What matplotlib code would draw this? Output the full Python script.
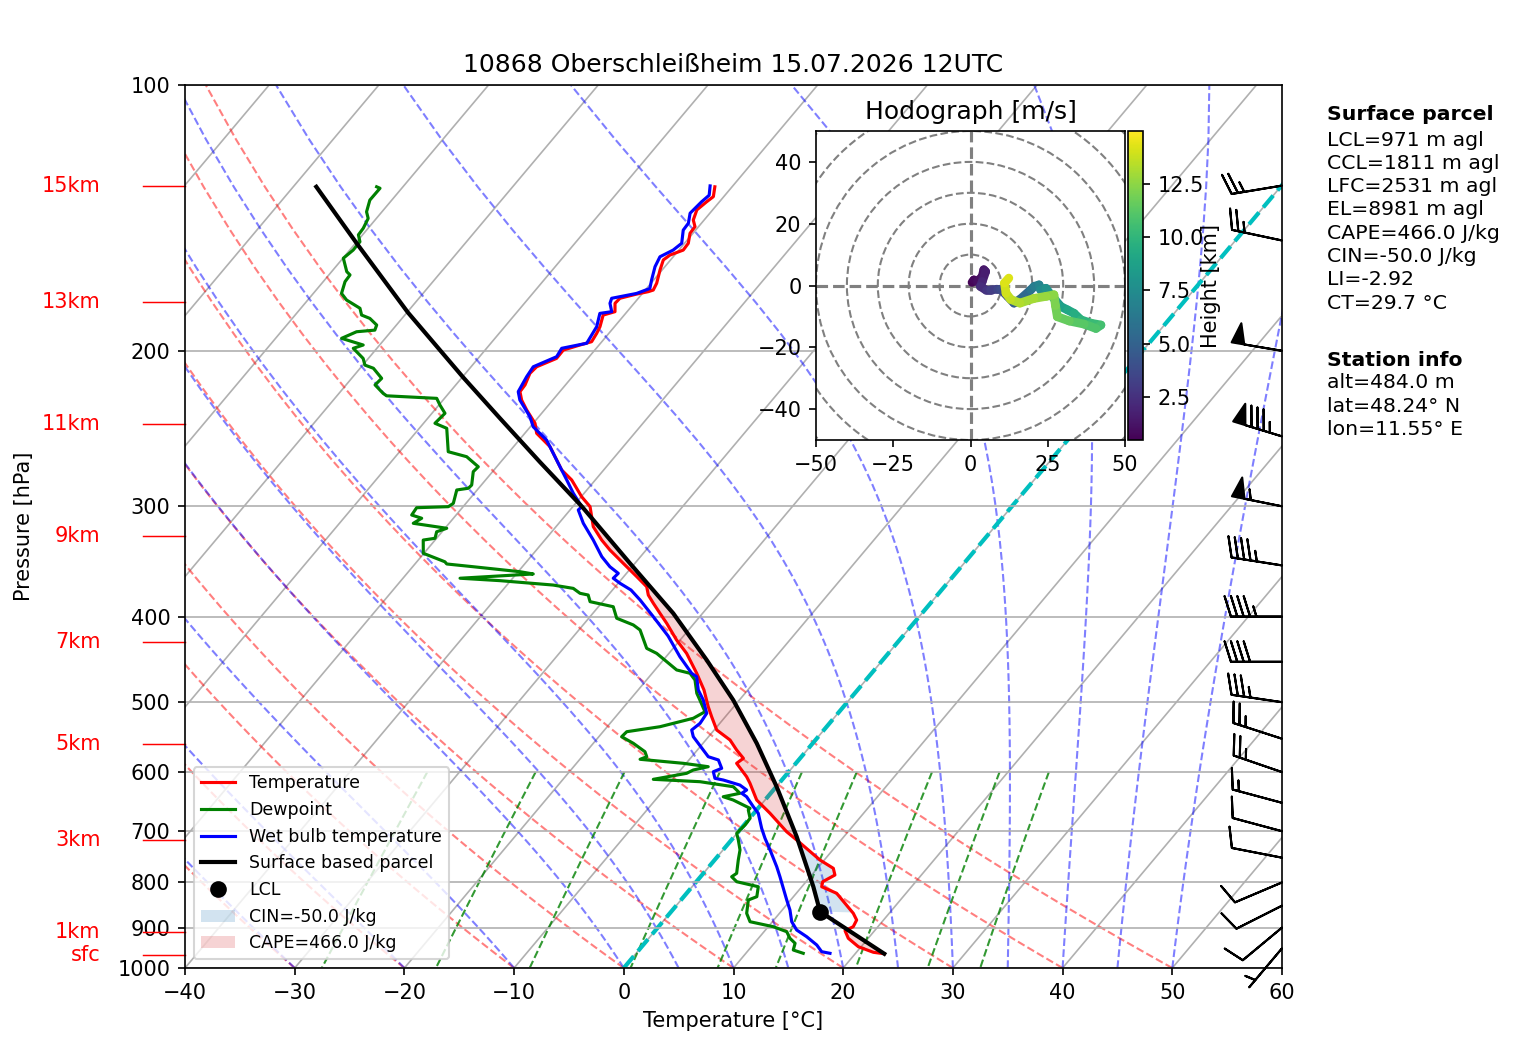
import numpy as np
import matplotlib
matplotlib.use("Agg")
import matplotlib.pyplot as plt
from matplotlib.transforms import Affine2D, blended_transform_factory
from matplotlib.collections import LineCollection
from matplotlib.patches import Circle
from matplotlib.colors import Normalize
from matplotlib.cm import ScalarMappable
from matplotlib.ticker import FixedLocator, NullLocator, FixedFormatter

# ---------------------------------------------------------------- data
title = "10868 Oberschleißheim 15.07.2026 12UTC"

temp_p = [963.5, 959.9, 946.0, 925.5, 907.3, 897.9, 882.4, 867.1, 823.0, 809.0, 798.5,
          784.7, 771.1, 754.6, 716.2, 700.9, 668.0, 645.3, 617.8, 607.3, 586.4, 578.8,
          566.4, 551.8, 537.6, 519.3, 505.9, 484.3, 463.7, 440.2, 425.2, 407.0, 396.6,
          386.3, 378.1, 370.0, 360.4, 348.1, 336.2, 327.6, 316.4, 300.3, 292.6, 280.1,
          272.9, 256.8, 248.0, 241.6, 233.4, 227.4, 222.5, 218.6, 212.1, 208.5, 204.0,
          199.6, 197.0, 195.3, 191.1, 187.8, 182.2, 180.6, 176.7, 174.4, 172.5, 171.4,
          170.7, 167.7, 162.0, 157.8, 155.8, 153.8, 151.1, 147.2, 144.7, 142.2, 138.5,
          135.6, 133.8, 130.4]
temp_t = [22.65, 21.55, 19.75, 18.19, 17.31, 17.75, 17.55, 16.73, 13.68, 11.81, 11.52,
          12.12, 11.46, 9.61, 5.95, 4.40, 1.47, -0.76, -2.65, -3.46, -5.40, -5.17,
          -6.42, -7.79, -9.77, -11.25, -12.33, -14.0, -15.94, -18.39, -20.32, -22.51, -23.88,
          -25.26, -26.35, -27.13, -28.81, -31.06, -33.30, -34.81, -36.60, -38.43, -39.96, -42.15,
          -43.83, -46.68, -48.92, -49.84, -51.61, -52.84, -53.63, -53.69, -54.13, -54.02, -52.85,
          -52.87, -51.74, -50.93, -51.11, -51.32, -51.92, -51.10, -51.74, -51.68, -50.48, -49.59,
          -49.27, -49.48, -50.19, -50.66, -50.43, -49.60, -49.66, -50.27, -50.32, -50.99, -51.44,
          -51.17, -50.95, -51.57]

wetbulb_p = [962.4, 958.4, 941.8, 921.6, 905.7, 886.3, 859.6, 837.5, 788.2, 767.9, 735.1,
             713.0, 694.7, 668.0, 656.7, 639.8, 634.1, 628.7, 620.6, 612.5, 609.8, 599.4,
             594.1, 581.3, 576.4, 547.1, 537.6, 528.3, 514.7, 497.2, 484.3, 467.9, 463.7,
             444.1, 420.7, 400.1, 383.0, 373.2, 366.7, 361.9, 357.3, 351.2, 342.1, 327.6,
             313.6, 302.9, 300.3, 290.0, 280.1, 268.2, 252.4, 243.8, 237.5, 227.4, 222.5,
             214.0, 208.5, 203.1, 198.7, 196.1, 191.9, 187.8, 181.4, 180.6, 176.7, 174.4,
             172.2, 170.0, 166.3, 160.6, 156.5, 153.8, 151.1, 146.0, 143.4, 139.7, 135.6,
             133.3, 130.1]
wetbulb_t = [17.67, 16.79, 15.83, 14.27, 12.85, 11.76, 10.70, 9.64, 7.24, 6.18, 4.29,
             2.93, 1.86, 0.40, -0.55, -1.93, -2.64, -2.44, -3.44, -5.34, -6.23, -6.88,
             -6.38, -7.32, -8.49, -11.39, -12.05, -11.80, -11.96, -13.29, -14.52, -15.68, -16.40,
             -18.74, -21.41, -24.23, -26.72, -28.31, -29.83, -30.83, -30.75, -32.02, -33.53, -35.58,
             -37.77, -39.25, -39.19, -40.98, -42.60, -44.65, -47.50, -49.74, -50.80, -53.0, -53.79,
             -54.17, -54.33, -52.97, -53.15, -51.26, -51.44, -51.62, -52.35, -51.40, -52.20, -52.43,
             -50.53, -49.70, -50.19, -50.90, -51.21, -50.52, -50.26, -51.13, -51.19, -51.80, -51.63,
             -51.44, -52.07]

dewpoint_p = [962.4, 954.2, 937.6, 925.5, 909.7, 897.9, 886.3, 867.1, 837.5, 830.3, 809.0,
              798.5, 788.2, 781.2, 754.6, 735.1, 716.2, 703.8, 688.7, 676.8, 662.3, 659.4,
              645.3, 639.8, 634.1, 623.3, 615.2, 611.4, 601.9, 596.7, 591.6, 586.4, 580.3,
              576.4, 568.9, 556.6, 547.1, 540.0, 533.0, 521.4, 512.6, 497.2, 488.5, 471.9,
              463.7, 459.7, 449.9, 440.2, 434.5, 414.2, 408.8, 401.7, 389.8, 384.7, 378.1,
              376.4, 371.6, 368.4, 364.2, 361.9, 357.9, 355.8, 351.2, 348.7, 346.7, 339.1,
              327.6, 326.1, 320.6, 317.7, 313.6, 309.5, 306.9, 301.1, 300.3, 297.7, 287.5,
              286.2, 283.8, 274.1, 270.6, 263.6, 260.2, 244.8, 241.6, 235.4, 230.4, 226.4,
              224.9, 223.5, 218.6, 214.9, 209.3, 207.6, 204.0, 198.7, 197.0, 193.6, 190.3,
              189.5, 187.0, 183.8, 182.2, 179.0, 175.2, 172.2, 167.0, 164.1, 162.7, 157.1,
              153.8, 150.5, 147.8, 145.3, 141.6, 139.2, 135.0, 130.9, 130.4]
dewpoint_t = [15.23, 14.07, 13.72, 12.87, 12.07, 10.46, 7.96, 7.01, 6.14, 6.66, 6.03,
              3.68, 2.84, 3.03, 2.16, 1.55, 0.63, -0.03, 0.09, 0.04, -0.76, -0.73,
              -2.90, -4.06, -2.80, -3.91, -7.33, -11.77, -9.19, -8.84, -7.73, -10.26, -14.51,
              -14.10, -14.65, -16.35, -17.92, -17.84, -15.19, -12.80, -12.24, -13.60, -14.40, -15.58,
              -16.55, -18.02, -19.56, -21.12, -22.41, -24.42, -25.42, -27.45, -28.65, -31.15, -31.83,
              -32.71, -33.70, -35.78, -40.96, -44.80, -38.45, -39.83, -44.48, -47.10, -47.44, -50.06,
              -51.08, -50.14, -50.49, -49.84, -53.27, -52.89, -54.05, -54.16, -51.35, -51.15, -51.86,
              -50.93, -50.88, -51.76, -51.68, -53.51, -55.57, -57.50, -58.96, -58.81, -59.90, -60.71,
              -65.47, -65.97, -67.36, -67.26, -68.79, -69.80, -70.48, -72.15, -71.50, -73.98, -73.12,
              -71.58, -71.80, -72.93, -73.94, -74.61, -76.46, -77.43, -78.01, -78.07, -78.62, -79.96,
              -79.69, -79.71, -80.38, -80.44, -80.75, -81.40, -82.00, -81.98, -82.40]

parcel_p = [963.5, 863.5, 809.0, 710.1, 623.3, 556.6, 497.2, 447.9, 396.6, 348.1, 300.3,
            267.3, 238.5, 214.4, 181.0, 151.1, 130.4]
parcel_t = [22.65, 13.58, 11.05, 5.70, 0.04, -5.10, -10.56, -16.05, -22.67, -30.45, -39.16,
            -46.42, -53.41, -59.89, -69.91, -79.89, -87.90]

lcl_p, lcl_t = 863.5, 13.58
lfc_p = 716.0

barb_p = [950, 900, 850, 800, 750, 700, 650, 600, 550, 500, 450, 400, 350, 300, 250, 200, 150, 130]
barb_u = [3.2, 7.7, 8.9, 9.2, 9.8, 9.7, 14.5, 23.6, 23.8, 34.6, 40.0, 45.0, 44.4, 53.9, 81.3, 49.3, 24.5, 24.7]
barb_v = [3.8, 6.4, 4.5, 3.9, -1.9, -2.6, -3.9, -8.1, -7.7, -5.1, 0.0, 0.0, -7.0, -10.8, -24.9, -8.3, -5.2, 4.1]

hodo_u = [0.5, 1.1, 2.2, 3.8, 4.3, 4.9, 3.8, 3.2, 4.9, 6.5, 8.7, 9.7, 12.0, 14.1, 16.0, 19.5,
          20.6, 22.2, 22.7, 24.4, 26.0, 29.2, 31.4, 33.5, 35.7, 39.0, 42.2, 40.6, 36.8, 32.0,
          28.1, 27.5, 27.0, 24.5, 20.5, 16.0, 13.0, 11.5, 11.0, 12.4]
hodo_v = [1.0, 1.8, 1.3, 2.9, 5.1, 4.5, 1.3, -0.3, -1.4, -1.4, -1.2, -1.2, -3.5, -5.7, -4.5, -1.4,
          -0.3, 0.2, -1.4, -0.9, -3.0, -6.8, -7.9, -9.0, -11.1, -12.2, -12.8, -13.9, -12.5, -11.5,
          -10.1, -6.5, -3.0, -3.5, -4.2, -5.7, -4.5, -2.5, 0.8, 2.4]
hodo_h = [0.5, 0.7, 0.9, 1.1, 1.3, 1.5, 1.8, 2.1, 2.5, 2.9, 3.3, 3.6, 4.0, 4.5, 5.0, 5.8,
          6.3, 6.8, 7.2, 7.6, 8.0, 8.5, 8.9, 9.3, 9.7, 10.1, 10.5, 10.8, 11.1, 11.4,
          11.7, 12.0, 12.3, 12.6, 12.9, 13.2, 13.5, 13.8, 14.1, 14.4]

height_labels = ["15km", "13km", "11km", "9km", "7km", "5km", "3km", "1km", "sfc"]
height_p = [130.1, 176.1, 242.0, 324.0, 427.0, 557.5, 716.0, 910.0, 966.6]

p_ticks = [100, 200, 300, 400, 500, 600, 700, 800, 900, 1000]
t_ticks = [-40, -30, -20, -10, 0, 10, 20, 30, 40, 50, 60]
hodo_xticks = [-50, -25, 0, 25, 50]
hodo_yticks = [-40, -20, 0, 20, 40]
cbar_ticks = [2.5, 5.0, 7.5, 10.0, 12.5]

parcel_lines = ["LCL=971 m agl", "CCL=1811 m agl", "LFC=2531 m agl", "EL=8981 m agl",
                "CAPE=466.0 J/kg", "CIN=-50.0 J/kg", "LI=-2.92", "CT=29.7 °C"]
station_lines = ["alt=484.0 m", "lat=48.24° N", "lon=11.55° E"]
cape_label = "CAPE=466.0 J/kg"
cin_label = "CIN=-50.0 J/kg"

# ---------------------------------------------------------------- figure
W, H, DPI = 1517, 1054, 150
fig = plt.figure(figsize=(W / DPI, H / DPI), dpi=DPI)
fig.patch.set_facecolor("white")

ax = fig.add_axes([185 / W, 1 - 968 / H, 1097 / W, 883 / H])
ax.set_yscale("log")
ax.set_xlim(-40, 60)
ax.set_ylim(1000, 100)
ax.set_autoscale_on(False)

SKEW = 0.6767
skew = ax.transScale + ax.transLimits + Affine2D().skew(np.arctan(SKEW), 0) + ax.transAxes

ax.yaxis.set_major_locator(FixedLocator(p_ticks))
ax.yaxis.set_major_formatter(FixedFormatter([str(v) for v in p_ticks]))
ax.yaxis.set_minor_locator(NullLocator())
ax.set_xticks(t_ticks)
ax.grid(True, axis="y")
ax.set_xlabel("Temperature [°C]")
ax.set_ylabel("Pressure [hPa]")
ax.yaxis.set_label_coords(-0.138, 0.5)
ax.set_title(title, fontsize=12)

# ---- background thermodynamic lines
for t in np.arange(-120, 61, 10):
    ax.plot([t, t], [1000, 100], transform=skew, color="#b0b0b0", lw=0.8, zorder=0.8)

Rd, Cp, Lv, eps = 287.04749, 1004.6662, 2.50084e6, 0.622
pp = np.linspace(1000, 100, 60)
for t0 in np.arange(-40, 51, 10):
    td = (t0 + 273.15) * (pp / 1000.0) ** (Rd / Cp) - 273.15
    ax.plot(td, pp, transform=skew, color="r", ls="--", lw=1, alpha=0.5, zorder=1)


def dtdp(p, T):
    es = 6.112 * np.exp(17.67 * (T - 273.15) / (T - 29.65))
    rs = eps * es / (p - es)
    return (Rd * T + Lv * rs) / (Cp + Lv * Lv * rs * eps / (Rd * T * T)) / p


moist_t0 = np.concatenate((np.arange(-40, 0, 10), np.arange(0, 51, 5))).astype(float)
T = moist_t0 + 273.15
moist = [T.copy()]
for i in range(1, len(pp)):
    h = (pp[i] - pp[i - 1]) / 20.0
    p = pp[i - 1]
    for _ in range(20):
        k1 = dtdp(p, T)
        k2 = dtdp(p + h / 2, T + h / 2 * k1)
        k3 = dtdp(p + h / 2, T + h / 2 * k2)
        k4 = dtdp(p + h, T + h * k3)
        T = T + h / 6 * (k1 + 2 * k2 + 2 * k3 + k4)
        p += h
    moist.append(T.copy())
moist = np.array(moist) - 273.15
for j in range(moist.shape[1]):
    ax.plot(moist[:, j], pp, transform=skew, color="b", ls="--", lw=1, alpha=0.5, zorder=1)

pm = np.linspace(600, 1000, 50)
for w in [0.0004, 0.001, 0.002, 0.004, 0.007, 0.01, 0.016, 0.024, 0.032]:
    e = pm * w / (eps + w)
    le = np.log(e / 6.112)
    tdm = 243.5 * le / (17.67 - le)
    ax.plot(tdm, pm, transform=skew, color="g", ls="--", lw=1, alpha=0.8, zorder=1)

ax.plot([0, 0], [1000, 100], transform=skew, color="c", ls="--", lw=2, zorder=1.5)

# ---- CAPE / CIN shading
pg = np.geomspace(963.5, 130.4, 800)
t_on = np.interp(-np.log(pg), -np.log(temp_p), temp_t)
tp_on = np.interp(-np.log(pg), -np.log(parcel_p), parcel_t)
cin_mask = (tp_on < t_on) & (pg <= lcl_p) & (pg >= lfc_p - 3)
cape_mask = tp_on > t_on
f_cin = ax.fill_betweenx(pg, t_on, tp_on, where=cin_mask, interpolate=True,
                         facecolor="tab:blue", alpha=0.2, transform=skew, zorder=1.8,
                         label=cin_label)
f_cape = ax.fill_betweenx(pg, t_on, tp_on, where=cape_mask, interpolate=True,
                          facecolor="tab:red", alpha=0.2, transform=skew, zorder=1.8,
                          label=cape_label)

# ---- profiles
l_t, = ax.plot(temp_t, temp_p, transform=skew, color="red", lw=1.5, zorder=3, label="Temperature")
l_d, = ax.plot(dewpoint_t, dewpoint_p, transform=skew, color="green", lw=1.5, zorder=3, label="Dewpoint")
l_w, = ax.plot(wetbulb_t, wetbulb_p, transform=skew, color="blue", lw=1.5, zorder=3,
               label="Wet bulb temperature")
l_p, = ax.plot(parcel_t, parcel_p, transform=skew, color="black", lw=2, zorder=3.5,
               label="Surface based parcel")
l_lcl, = ax.plot([lcl_t], [lcl_p], transform=skew, color="black", marker="o", ms=7, ls="none",
                 zorder=4, label="LCL")

ax.legend(handles=[l_t, l_d, l_w, l_p, l_lcl, f_cin, f_cape], loc="lower left", fontsize="small")

# ---- wind barbs
bt = blended_transform_factory(ax.transAxes, ax.transData)
ax.barbs(np.ones(len(barb_p)), barb_p, barb_u, barb_v, transform=bt, clip_on=False,
         length=7, lw=1, zorder=5)

# ---- height labels
for lab, p in zip(height_labels, height_p):
    ax.plot([-0.038, 0], [p, p], transform=bt, color="red", lw=0.7, clip_on=False)
    ax.text(-0.077, p, lab, transform=bt, color="red", ha="right", va="center", fontsize=10)

# ---- hodograph inset
hax = fig.add_axes([816 / W, 1 - 440 / H, 309 / W, 309 / H])
hax.set_xlim(-50, 50)
hax.set_ylim(-50, 50)
for r in range(10, 100, 10):
    hax.add_patch(Circle((0, 0), r, fill=False, edgecolor="grey", ls="--", lw=1))
hax.axhline(0, color="grey", ls="--", lw=1.5)
hax.axvline(0, color="grey", ls="--", lw=1.5)
norm = Normalize(0.47, 15.0)
pts = np.column_stack([hodo_u, hodo_v])
segs = np.stack([pts[:-1], pts[1:]], axis=1)
lc = LineCollection(segs, cmap="viridis", norm=norm, lw=4.2, capstyle="round")
lc.set_array(0.5 * (np.array(hodo_h[:-1]) + np.array(hodo_h[1:])))
hax.add_collection(lc)
hax.set_xticks(hodo_xticks)
hax.set_yticks(hodo_yticks)
hax.set_title("Hodograph [m/s]", fontsize=12)

cax = fig.add_axes([1128 / W, 1 - 440 / H, 15 / W, 309 / H])
cb = fig.colorbar(ScalarMappable(norm=norm, cmap="viridis"), cax=cax)
cb.set_ticks(cbar_ticks)
cb.set_label("Height [km]", labelpad=-1.5)

# ---- right text
fx = 1327 / W
fig.text(fx, 1 - 114 / H, "Surface parcel", fontweight="bold", fontsize=9.8, va="center")
for i, s in enumerate(parcel_lines):
    fig.text(fx, 1 - (140 + 23.3 * i) / H, s, fontsize=9.8, va="center")
fig.text(fx, 1 - 360 / H, "Station info", fontweight="bold", fontsize=9.8, va="center")
for i, s in enumerate(station_lines):
    fig.text(fx, 1 - (383 + 23.2 * i) / H, s, fontsize=9.8, va="center")

fig.savefig("out.png", dpi=DPI)
